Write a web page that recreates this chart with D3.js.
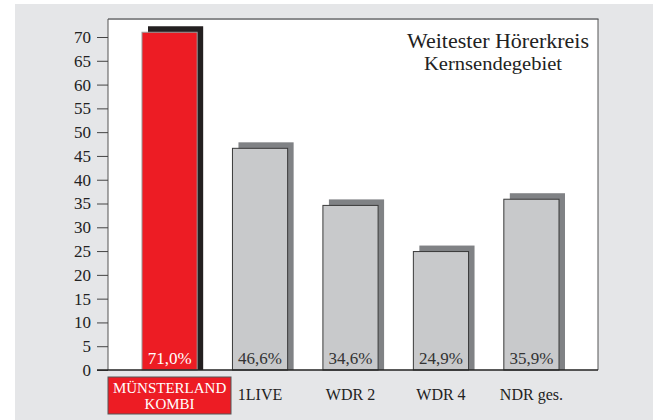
<!DOCTYPE html>
<html lang="de">
<head>
<meta charset="UTF-8">
<title>Weitester Hörerkreis</title>
<script src="https://d3js.org/d3.v7.min.js"></script>
<style>
  body { margin: 0; background: #fff; }
  svg { display: block; font-family: "Liberation Serif", "DejaVu Serif", serif; }
</style>
</head>
<body>
<svg id="chart" width="653" height="420"></svg>
<script>
// data
const stations = ["MÜNSTERLAND KOMBI", "1LIVE", "WDR 2", "WDR 4", "NDR ges."];
const reach = [71.0, 46.6, 34.6, 24.9, 35.9];
const valueLabels = ["71,0%", "46,6%", "34,6%", "24,9%", "35,9%"];
const yTicks = [0, 5, 10, 15, 20, 25, 30, 35, 40, 45, 50, 55, 60, 65, 70];

const svg = d3.select("#chart");
const W = 653, H = 420;
const plot = { left: 108, right: 598, top: 19, bottom: 370 };
const shadowOff = 6;

// grey page background
svg.append("rect").attr("x", 15).attr("y", 4).attr("width", W - 15).attr("height", H - 4).attr("fill", "#e5e6e8");

// white plot area
svg.append("rect")
  .attr("x", plot.left).attr("y", plot.top)
  .attr("width", plot.right - plot.left).attr("height", plot.bottom - plot.top)
  .attr("fill", "#fff");
svg.append("line").attr("x1", plot.left).attr("x2", plot.right + 0.5)
  .attr("y1", plot.top).attr("y2", plot.top).attr("stroke", "#8a8b8d").attr("stroke-width", 2);
svg.append("line").attr("x1", plot.right).attr("x2", plot.right)
  .attr("y1", plot.top).attr("y2", plot.bottom).attr("stroke", "#555").attr("stroke-width", 1);

const x = d3.scaleBand().domain(stations).range([142, 559]).paddingInner(0.39).paddingOuter(0);
const y = d3.scaleLinear().domain([0, 70]).range([plot.bottom, plot.bottom - 70 * 4.757]);

// y axis
const yAxis = svg.append("g")
  .attr("transform", `translate(${plot.left},0)`)
  .call(d3.axisLeft(y).tickValues(yTicks).tickSize(11).tickPadding(6));
yAxis.select(".domain").attr("stroke", "#555").attr("d", `M0,${plot.top}V${plot.bottom}`);
yAxis.selectAll(".tick line").attr("stroke", "#444");
yAxis.selectAll(".tick text")
  .attr("font-family", "Liberation Serif, serif").attr("font-size", 17).attr("fill", "#222");

const rows = stations.map((s, i) => ({ s, v: reach[i], lbl: valueLabels[i], i }));

// shadows
svg.selectAll(".shadow").data(rows).enter().append("rect")
  .attr("x", d => x(d.s) + shadowOff)
  .attr("y", d => y(d.v) - shadowOff)
  .attr("width", x.bandwidth())
  .attr("height", d => plot.bottom - y(d.v) + shadowOff)
  .attr("fill", d => d.i === 0 ? "#231f20" : "#808285");

// bars
svg.selectAll(".bar").data(rows).enter().append("rect")
  .attr("x", d => x(d.s))
  .attr("y", d => y(d.v))
  .attr("width", x.bandwidth())
  .attr("height", d => plot.bottom - y(d.v))
  .attr("fill", d => d.i === 0 ? "#ed1c24" : "#c8c9cb")
  .attr("stroke", d => d.i === 0 ? "#9a9a9a" : "#3a3a3a")
  .attr("stroke-width", 1);

// baseline
svg.append("line").attr("x1", plot.left - 11).attr("x2", plot.right)
  .attr("y1", plot.bottom).attr("y2", plot.bottom).attr("stroke", "#222").attr("stroke-width", 1.5);

// value labels
svg.selectAll(".val").data(rows).enter().append("text")
  .attr("x", d => x(d.s) + x.bandwidth() / 2)
  .attr("y", 364)
  .attr("text-anchor", "middle")
  .attr("font-size", 17)
  .attr("fill", d => d.i === 0 ? "#fff" : "#333")
  .text(d => d.lbl);

// category labels
const cx = d => x(d) + x.bandwidth() / 2;
svg.append("rect").attr("x", 108).attr("y", 377).attr("width", 123).attr("height", 37)
  .attr("fill", "#ed1c24").attr("stroke", "#555").attr("stroke-width", 1);
const first = svg.append("text").attr("text-anchor", "middle").attr("font-size", 15).attr("fill", "#fff");
first.append("tspan").attr("x", cx(stations[0])).attr("y", 393).text("MÜNSTERLAND");
first.append("tspan").attr("x", cx(stations[0])).attr("y", 409).text("KOMBI");

svg.selectAll(".cat").data(stations.slice(1)).enter().append("text")
  .attr("x", d => cx(d))
  .attr("y", 400)
  .attr("text-anchor", "middle")
  .attr("font-size", 16)
  .attr("fill", "#222")
  .text(d => d);

// title
svg.append("text").attr("x", 498).attr("y", 48).attr("text-anchor", "middle")
  .attr("font-size", 21).attr("fill", "#222")
  .attr("textLength", 182).attr("lengthAdjust", "spacingAndGlyphs")
  .text("Weitester Hörerkreis");
svg.append("text").attr("x", 493).attr("y", 70).attr("text-anchor", "middle")
  .attr("font-size", 18).attr("fill", "#222")
  .attr("textLength", 138).attr("lengthAdjust", "spacingAndGlyphs")
  .text("Kernsendegebiet");
</script>
</body>
</html>
